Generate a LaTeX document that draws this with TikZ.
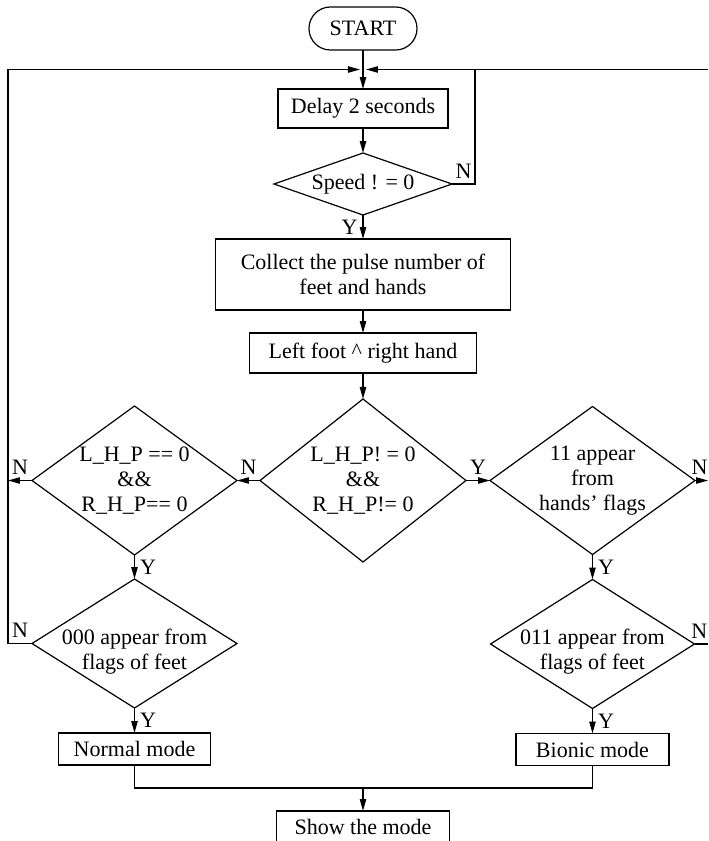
\documentclass[tikz,border=0pt]{standalone}
\usepackage{fontspec}
\setmainfont{Liberation Serif}
\usetikzlibrary{positioning}
\usetikzlibrary{calc}
\usetikzlibrary{shapes.geometric}
\usetikzlibrary{arrows.meta}

\tikzset{
    every node/.style={font=\fontsize{11pt}{12.5pt}\selectfont},
    terminal/.style={draw, rectangle, rounded corners=10.7pt, minimum width=54pt, minimum height=21.5pt, inner sep=0pt, outer sep=0pt},
    process/.style={draw, rectangle, inner sep=0pt, outer sep=0pt},
    decision/.style={draw, diamond, inner sep=0pt, outer sep=0pt},
    flow/.style={-{Triangle[length=6pt,width=3.2pt]}},
    tag/.style={inner sep=2.5pt},
}

\begin{document}
\begin{tikzpicture}[line width=0.6pt]
    \useasboundingbox (-181.5pt,-406.25pt) rectangle (172.5pt,14.25pt);

    \node[terminal] (start) at (0,0) {START};
    \node[process, minimum width=85pt, minimum height=19.5pt, below=19.5pt of start] (delay) {Delay 2 seconds};
    \node[decision, minimum width=89pt, minimum height=31pt, below=12.5pt of delay,
        label=center:{Speed ! = 0}] (speed) {};
    \node[process, align=center, minimum width=147.5pt, minimum height=35.5pt, below=12pt of speed] (collect) {Collect the pulse number of\\feet and hands};
    \node[process, minimum width=113.5pt, minimum height=20pt, below=11.5pt of collect] (foot) {Left foot \textasciicircum\ right hand};

    \node[decision, minimum width=103pt, minimum height=81.5pt, below=13pt of foot,
        label={[align=center]center:L\_H\_P! = 0\\\&\&\\R\_H\_P!= 0}] (both) {};
    \node[decision, minimum width=102.5pt, minimum height=74.5pt, left=11.5pt of both,
        label={[align=center]center:L\_H\_P == 0\\\&\&\\R\_H\_P== 0}] (none) {};
    \node[decision, minimum width=102.5pt, minimum height=74pt, right=12pt of both,
        label={[align=center]center:11 appear\\from\\hands’ flags}] (hands) {};

    \node[decision, minimum width=102.5pt, minimum height=64.5pt, below=12pt of none,
        label={[align=center, yshift=-4pt]center:000 appear from\\flags of feet}] (feetn) {};
    \node[decision, minimum width=102pt, minimum height=64.5pt, below=12.5pt of hands,
        label={[align=center, yshift=-4pt]center:011 appear from\\flags of feet}] (feetb) {};

    \node[process, minimum width=76pt, minimum height=16pt, below=12.5pt of feetn] (normal) {Normal mode};
    \node[process, minimum width=76.5pt, minimum height=16pt, below=12.5pt of feetb] (bionic) {Bionic mode};

    \coordinate (join) at ($(normal.south -| both)+(0,-11.5pt)$);
    \node[process, minimum width=86.5pt, minimum height=16pt, below=11.5pt of join] (show) {Show the mode};

    \coordinate (top) at ($(start.south)!0.5!(delay.north)$);
    \coordinate (nloop) at ($(speed.east)+(11.5pt,0)$);
    \coordinate (lrail) at ($(none.west)+(-12pt,0)$);
    \coordinate (rrail) at ($(hands.east)+(6.5pt,0)$);

    \draw[flow] (start) -- (delay);
    \draw[flow] (delay) -- (speed);
    \draw[flow] (speed) -- node[tag, left] {Y} (collect);
    \draw (speed.east) -- node[tag, above] {N} (speed.east -| nloop) -- (top -| nloop);
    \draw[flow] (top -| rrail) -- ([xshift=1.5pt]top);
    \draw[flow] (feetn.west) -- node[tag, above] {N} (feetn.west -| lrail) -- (top -| lrail) -- ([xshift=-1.5pt]top);
    \draw[flow] (collect) -- (foot);
    \draw[flow] (foot) -- (both);

    \draw[flow] (both.west) -- node[tag, above] {N} (none.east);
    \draw[flow] (both.east) -- node[tag, above] {Y} (hands.west);
    \draw[flow] (none.west) -- node[tag, above] {N} (none.west -| lrail);
    \draw[flow] (hands.east) -- node[tag, above, pos=0.35] {N} (hands.east -| rrail);
    \draw (feetb.east) -- node[tag, above, pos=0.35] {N} (feetb.east -| rrail);

    \draw[flow] (none) -- node[tag, right] {Y} (feetn);
    \draw[flow] (hands) -- node[tag, right] {Y} (feetb);
    \draw[flow] (feetn) -- node[tag, right] {Y} (normal);
    \draw[flow] (feetb) -- node[tag, right] {Y} (bionic);

    \draw (normal.south) |- (join) -| (bionic.south);
    \draw[flow] (join) -- (show);
\end{tikzpicture}
\end{document}
